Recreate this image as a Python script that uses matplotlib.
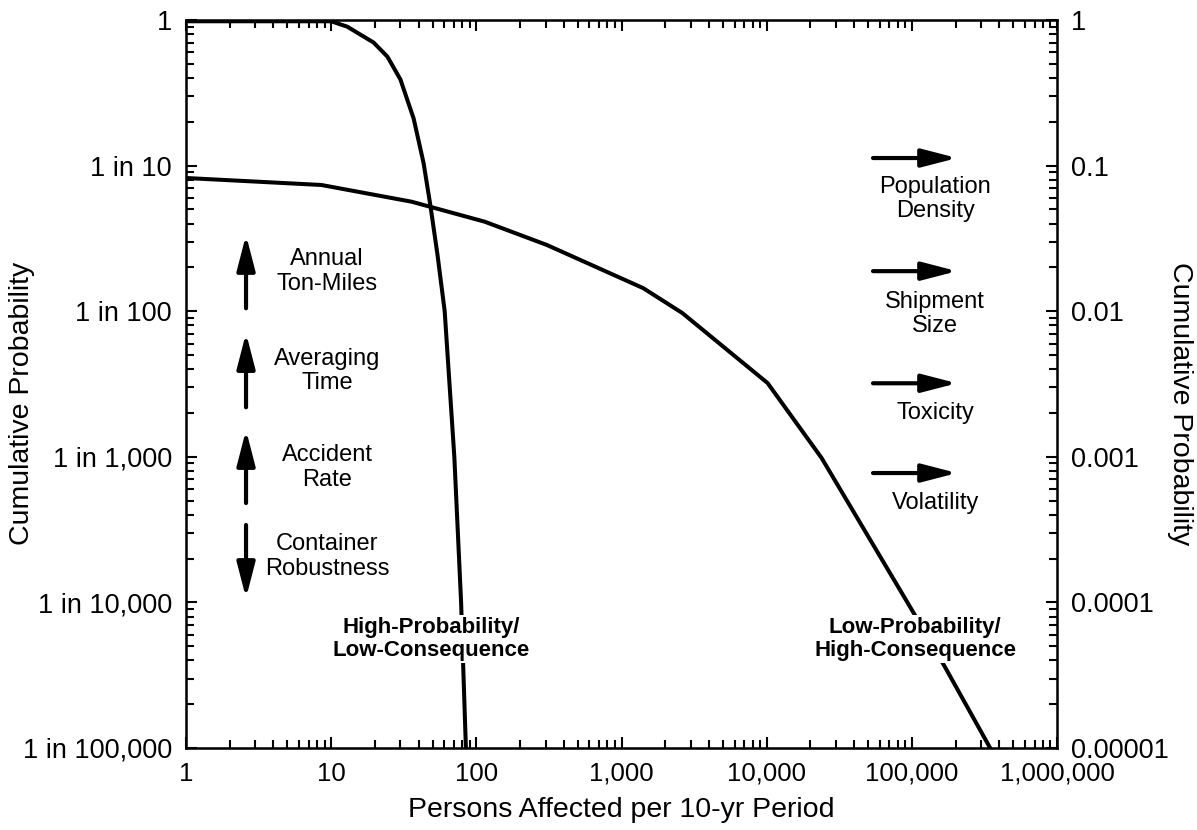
import matplotlib
matplotlib.use("Agg")
import matplotlib.pyplot as plt
from matplotlib.ticker import FixedLocator, LogLocator, NullFormatter

plt.rcParams['font.family'] = ['Liberation Sans', 'DejaVu Sans']

# high-probability / low-consequence curve
hp_x = [1, 10, 12.9, 19.6, 24.4, 30, 37, 43.3, 48.4, 54.1, 60.5, 70.5, 78.5, 84.7]
hp_y = [0.98, 0.98, 0.9, 0.7, 0.56, 0.39, 0.21, 0.104, 0.052, 0.024, 0.01, 0.001, 1e-4, 1e-5]

# low-probability / high-consequence curve
lp_x = [1, 8.56, 35.8, 114, 306, 1410, 2620, 10140, 23900, 100000, 169000, 346000]
lp_y = [0.0822, 0.0736, 0.0565, 0.0412, 0.0285, 0.0144, 0.00972, 0.00321, 9.8e-4, 8.87e-5, 3.6e-5, 1e-5]

x_ticks = [1, 10, 100, 1000, 10000, 100000, 1000000]
x_labels = ['1', '10', '100', '1,000', '10,000', '100,000', '1,000,000']
y_ticks = [1e-5, 1e-4, 1e-3, 1e-2, 1e-1, 1]
y_left_labels = ['1 in 100,000', '1 in 10,000', '1 in 1,000', '1 in 100', '1 in 10', '1']
y_right_labels = ['0.00001', '0.0001', '0.001', '0.01', '0.1', '1']

# factors that push the risk curve (arrow head, arrow tail, label position)
left_factors = [
    ("Annual\nTon-Miles", 0.7047, 0.604, 0.6545),
    ("Averaging\nTime", 0.570, 0.468, 0.518),
    ("Accident\nRate", 0.4368, 0.3365, 0.385),
    ("Container\nRobustness", 0.206, 0.3063, 0.263),
]
right_factors = [
    ("Population\nDensity", 0.8104, 0.754),
    ("Shipment\nSize", 0.655, 0.596),
    ("Toxicity", 0.501, 0.460),
    ("Volatility", 0.3777, 0.3365),
]

fig = plt.figure(figsize=(11.97, 8.30), dpi=100)
ax = fig.add_axes([0.1554, 0.0988, 0.7277, 0.8771])

ax.plot(hp_x, hp_y, color='black', lw=2.9, solid_joinstyle='round')
ax.plot(lp_x, lp_y, color='black', lw=2.9, solid_joinstyle='round')

ax.set_xscale('log')
ax.set_yscale('log')
ax.set_xlim(1, 1e6)
ax.set_ylim(1e-5, 1)

ax.xaxis.set_major_locator(FixedLocator(x_ticks))
ax.set_xticklabels(x_labels)
ax.yaxis.set_major_locator(FixedLocator(y_ticks))
ax.set_yticklabels(y_left_labels)
for axis in (ax.xaxis, ax.yaxis):
    axis.set_minor_locator(LogLocator(base=10, subs=range(2, 10), numticks=20))
    axis.set_minor_formatter(NullFormatter())

ax.tick_params(which='both', direction='in', top=True, right=False, width=1.5, pad=10)
ax.tick_params(axis='x', labelsize=18.5)
ax.tick_params(axis='y', labelsize=19.5)
ax.tick_params(which='major', length=8)
ax.tick_params(which='minor', length=6)
for s in ax.spines.values():
    s.set_linewidth(1.8)

ax.set_xlabel('Persons Affected per 10-yr Period', fontsize=20.5, labelpad=8)
ax.set_ylabel('Cumulative Probability', fontsize=20.5, va='center')
ax.yaxis.set_label_coords(-0.188, 0.473)

ax2 = ax.twinx()
ax2.set_yscale('log')
ax2.set_ylim(1e-5, 1)
ax2.yaxis.set_major_locator(FixedLocator(y_ticks))
ax2.set_yticklabels(y_right_labels)
ax2.yaxis.set_minor_locator(LogLocator(base=10, subs=range(2, 10), numticks=20))
ax2.yaxis.set_minor_formatter(NullFormatter())
ax2.tick_params(which='both', direction='in', width=1.5, labelsize=19.5, pad=10)
ax2.tick_params(which='major', length=8)
ax2.tick_params(which='minor', length=6)
ax2.set_ylabel('Cumulative Probability', fontsize=20.5, rotation=270, va='center')
ax2.yaxis.set_label_coords(1.141, 0.473)

arrow = dict(arrowstyle='-|>,head_length=0.85,head_width=0.22', lw=3, color='black',
             mutation_scale=25, shrinkA=0, shrinkB=0, capstyle='round')

for label, head, tail, ty in left_factors:
    ax.annotate('', xy=(0.0689, head), xytext=(0.0689, tail),
                xycoords='axes fraction', arrowprops=arrow)
    ax.text(0.162, ty, label, transform=ax.transAxes, ha='center', va='center',
            fontsize=17, linespacing=1.15)

for label, ay, ty in right_factors:
    ax.annotate('', xy=(0.8852, ay), xytext=(0.7887, ay),
                xycoords='axes fraction', arrowprops=arrow)
    ax.text(0.86, ty, label, transform=ax.transAxes, ha='center', va='center',
            fontsize=17, linespacing=1.1)

box = dict(facecolor='white', edgecolor='none', pad=1)
ax.text(0.281, 0.1497, 'High-Probability/\nLow-Consequence', transform=ax.transAxes,
        ha='center', va='center', fontsize=16, fontweight='bold', linespacing=1.15,
        bbox=box)
ax.text(0.837, 0.1497, 'Low-Probability/\nHigh-Consequence', transform=ax.transAxes,
        ha='center', va='center', fontsize=16, fontweight='bold', linespacing=1.15,
        bbox=box)

fig.savefig('out.png', dpi=100)
